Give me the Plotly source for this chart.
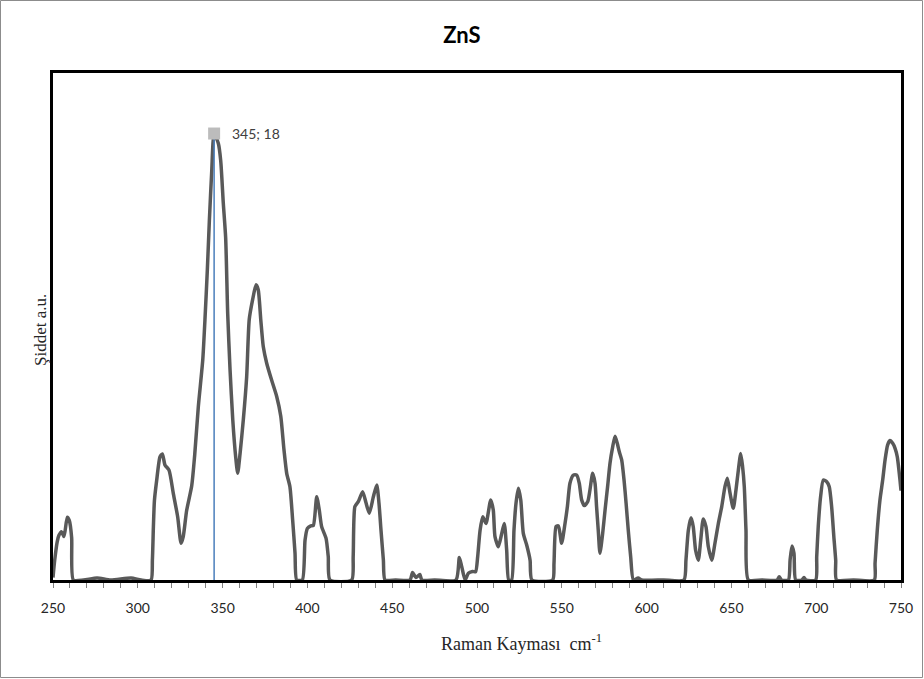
import plotly.graph_objects as go

# Raman spectrum of ZnS
raman_shift = [
    250, 251, 252.5, 253.5, 255, 256.5, 258.4, 259.6, 261, 262,
    268, 276, 284, 296, 302,
    307.8, 308.6, 309.2, 309.8, 311.1, 313.1, 314.5, 316, 318.4, 320.9, 323.5, 325.5, 326.8, 328.8,
    331.8, 333.5, 335.7, 338.3, 339.6, 341, 342.2, 343.6, 345, 347.5, 348.9, 350.4, 351.8, 353,
    354.4, 356, 357.7, 358.9, 360.3, 362.2, 364.2, 365.7, 367.7, 369.7, 371, 372.5, 374, 376,
    378.9, 381.9, 384.3, 386.2, 387.8, 389.7, 391.3, 392.7, 393.7,
    397, 398.6, 400, 402, 403.5, 405.5, 407, 408.4, 411, 412.3, 413.3,
    426.1, 427, 428, 430, 432.6, 434.6, 436.5, 438.9, 440.9, 442.2, 443.4, 444.8, 445.8,
    452, 460.5, 462, 464, 466.3, 467.5, 475,
    487.6, 489.6, 491, 493, 494.9, 497.4, 499.2, 500.4, 501.8, 503.4, 505.3, 508.1, 509.6, 510.6,
    512.6, 514.6, 516.1, 517.5, 518.7, 520.4, 521.8, 523, 524.4, 525.8, 527.3, 529.3, 531.3, 532.4,
    544.6, 545.4, 546.6, 548, 549.9, 551.9, 553.3, 554.8, 556.8, 558.8, 560.3, 561.7, 563.3, 565.3,
    566.6, 568.2, 569.6, 570.5, 571.5, 572.5, 574.1, 575.5, 577, 578.4, 580, 581.4, 582.7, 583.9,
    585.3, 586.7, 587.9, 589.2, 590.6, 592.2, 595, 597, 610,
    622, 623.2, 624.6, 626.2, 627.5, 628.9, 630.5, 631.9, 633.4, 635, 636.4, 638.4, 640.3, 642.3,
    644.3, 646.2, 647.6, 649.2, 651.1, 652.7, 654.1, 655.5, 656.6, 657.6, 658.6, 660,
    668, 677, 678.2, 679.5, 683.6, 684.6, 685.7, 686.9, 687.9, 691.5, 692.8, 694,
    699.7, 700.3, 701.2, 702.6, 704.2, 706.2, 707.7, 709.1, 710.4, 711.5, 712, 722,
    734.3, 734.7, 736, 737.6, 739.2, 740.6, 742.1, 743.5, 745.1, 746.5, 747.8, 749.4, 750,
]
intensity = [
    0.1, 0.8, 1.55, 1.8, 1.95, 1.75, 2.53, 2.4, 1.7, 0,
    0, 0.08, 0, 0.08, 0,
    0, 0.8, 2.15, 3.2, 4.0, 4.97, 5.08, 4.64, 4.43, 3.5, 2.55, 1.48, 1.75, 2.8,
    3.8, 5.0, 7.0, 8.87, 10.5, 12.5, 14.5, 16.5, 18, 17.6, 16.9, 15.2, 13.8, 10.75,
    8.47, 6.45, 4.97, 4.3, 5.1, 6.45, 8.2, 10.5, 11.3, 11.9, 11.7, 10.5, 9.4, 8.74,
    8.06, 7.4, 6.6, 5.24, 4.3, 3.76, 2.42, 1.08, 0,
    0, 1.6, 2.08, 2.18, 2.2, 3.36, 2.82, 2.15, 1.68, 0.94, 0,
    0, 0.94, 2.96, 3.16, 3.56, 3.1, 2.69, 3.36, 3.83, 3.1, 2.0, 0.8, 0,
    0, 0, 0.3, 0.1, 0.22, 0, 0,
    0, 0.91, 0.54, 0, 0.27, 0.34, 0.34, 0.94, 2.0, 2.55, 2.28, 3.23, 2.82, 1.75,
    1.34, 1.88, 2.28, 1.2, 0, 0, 2.0, 3.1, 3.7, 3.23, 1.88, 1.41, 0.8, 0,
    0, 0.67, 2.15, 2.18, 1.48, 2.28, 2.96, 3.9, 4.23, 4.23, 3.9, 3.23, 3.0, 3.16,
    3.63, 4.3, 3.9, 2.96, 2.0, 1.08, 1.88, 2.82, 3.76, 4.7, 5.37, 5.8, 5.51, 5.17,
    4.84, 4.03, 3.1, 2.0, 0.94, 0, 0.08, 0, 0,
    0, 0.8, 2.0, 2.51, 2.15, 1.2, 0.8, 1.6, 2.46, 2.15, 1.34, 0.8, 1.48, 2.28,
    2.96, 3.76, 4.1, 3.5, 2.89, 3.63, 4.43, 5.1, 4.57, 3.76, 2.0, 0,
    0, 0, 0.13, 0, 0, 0.8, 1.37, 1.08, 0, 0, 0.1, 0,
    0, 0.94, 2.15, 3.36, 4.03, 3.96, 3.76, 2.96, 1.75, 0.8, 0, 0,
    0, 0.67, 2.0, 3.23, 4.03, 4.84, 5.44, 5.62, 5.51, 5.31, 4.97, 4.03, 3.6,
]

peak_x = [345]
peak_y = [18]
peak_label = "345; 18"

x_ticks = [250, 300, 350, 400, 450, 500, 550, 600, 650, 700, 750]

fig = go.Figure()

fig.add_trace(go.Scatter(
    x=raman_shift, y=intensity, mode="lines",
    line=dict(color="#595959", width=3.5, shape="spline", smoothing=0.6),
    showlegend=False, hoverinfo="x+y",
))

fig.add_trace(go.Scatter(
    x=[peak_x[0], peak_x[0]], y=[0, peak_y[0]], mode="lines",
    line=dict(color="#4a7ebb", width=1.5), showlegend=False,
))

fig.add_trace(go.Scatter(
    x=peak_x, y=peak_y, mode="markers",
    marker=dict(symbol="square", size=12, color="#bcbcbc"),
    showlegend=False, cliponaxis=False,
))

L, R, T, B = 53, 23, 73, 99
W, H = 924, 679
pw, ph = W - L - R, H - T - B

fig.update_layout(
    width=W, height=H,
    margin=dict(l=L, r=R, t=T, b=B),
    paper_bgcolor="white", plot_bgcolor="white",
    title=dict(text="<b>ZnS</b>", x=0.5, xref="container", xanchor="center",
               y=1 - 35 / H, yanchor="middle",
               font=dict(family="Lato", size=22, color="#000000")),
    xaxis=dict(
        range=[250, 750], tickvals=x_ticks, ticktext=[str(v) for v in x_ticks],
        ticks="outside", ticklen=5, tickcolor="#808080", tickwidth=1,
        minor=dict(dtick=10, tick0=250, ticks="outside", ticklen=5, tickcolor="#808080"),
        showline=True, linecolor="#000000", linewidth=2.5, mirror=True,
        showgrid=False, zeroline=False,
        tickfont=dict(family="Lato", size=14, color="#262626"),
        ticklabelstandoff=8,
    ),
    yaxis=dict(
        range=[0, 20.44], showticklabels=False, ticks="",
        showline=True, linecolor="#000000", linewidth=2.5, mirror=True,
        showgrid=False, zeroline=False,
    ),
    annotations=[
        dict(text=peak_label, x=peak_x[0], y=peak_y[0], xref="x", yref="y",
             xanchor="left", yanchor="middle", xshift=16, showarrow=False,
             font=dict(family="Lato", size=14, color="#404040")),
        dict(text="Raman Kayması  cm<sup>-1</sup>", xref="paper", yref="paper",
             x=(521 - L) / pw, y=-(642 - (T + ph)) / ph, xanchor="center", yanchor="middle",
             showarrow=False, font=dict(family="Liberation Serif", size=18, color="#262626")),
        dict(text="Şiddet a.u.", xref="paper", yref="paper", textangle=-90,
             x=(41 - L) / pw, y=((T + ph) - 330) / ph, xanchor="center", yanchor="middle",
             showarrow=False, font=dict(family="Liberation Serif", size=17, color="#262626")),
    ],
    shapes=[
        dict(type="rect", xref="paper", yref="paper",
             x0=(0.5 - L) / pw, x1=(W - 1.5 - L) / pw,
             y0=-(H - 1.5 - (T + ph)) / ph, y1=((T + ph) - 0.5) / ph,
             line=dict(color="#8c8c8c", width=1), fillcolor="rgba(0,0,0,0)", layer="below"),
    ],
)

fig.write_html("out.html")
